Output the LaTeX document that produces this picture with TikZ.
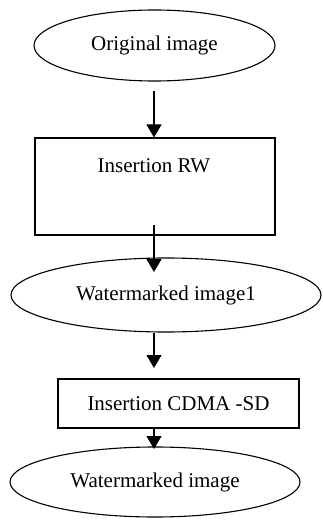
\documentclass[tikz,border=0pt]{standalone}
\usepackage{fontspec}
\setmainfont{Liberation Serif}
\usetikzlibrary{shapes.geometric,arrows.meta,calc}
\begin{document}
\begin{tikzpicture}[x=1pt,y=-1pt,
  every node/.style={font=\fontsize{21}{25}\selectfont, inner sep=0pt},
  oval/.style={ellipse, draw, line width=1.1pt},
  box/.style={rectangle, draw, line width=1.1pt},
  flow/.style={line width=1.1pt, -{Triangle[length=13pt,width=15pt]}}]
  \useasboundingbox (0,0) rectangle (322,521);

  % start and processing stages
  \node[oval, minimum width=241, minimum height=71] (orig) at (154.5,45.5) {Original image};
  \node[box, minimum width=240, minimum height=97] (rw) at (155,186.5) {};
  \node (rwtext) at (154,166) {Insertion RW};
  \node[oval, minimum width=310, minimum height=74] (wm1) at (166,295) {Watermarked image1};
  \node[box, minimum width=241, minimum height=49] (cdma) at (178.5,403.5) {Insertion CDMA -SD};
  \node[oval, minimum width=290, minimum height=70] (wm) at (155,482) {Watermarked image};

  % arrow end points along the flow axis
  \coordinate (a1s) at (154,91);
  \coordinate (a2s) at (154,225);
  \coordinate (a2e) at (154,272);
  \coordinate (a3e) at (154,368);
  \coordinate (a4e) at (154,449);

  \draw[flow] (a1s) -- (a1s |- rw.north);
  \draw[flow] (a2s) -- (a2e);
  \draw[flow] (a2s |- wm1.south) -- (a3e);
  \draw[flow] (a2s |- cdma.south) -- (a4e);
\end{tikzpicture}
\end{document}
